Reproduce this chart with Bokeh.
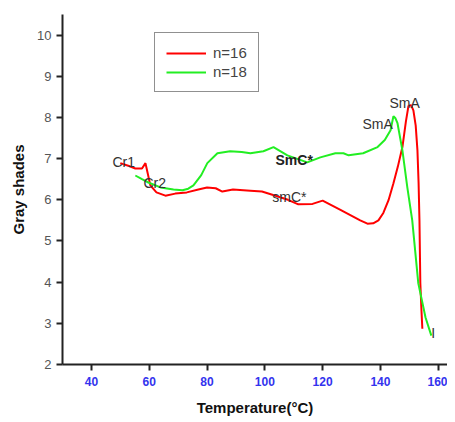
from bokeh.plotting import figure
from bokeh.models import Range1d, Legend, LegendItem
from bokeh.core.properties import value
from bokeh.embed import file_html
from bokeh.resources import INLINE

# n=16 (red)
t16 = [50.0, 53.0, 55.2, 57.5, 58.7, 59.3, 60.4, 62.5, 65.6, 69.0, 73.0, 77.0, 80.0, 83.0, 85.3,
       89.0, 95.0, 99.0, 103.7, 108.0, 111.6, 116.5, 120.0, 126.0, 133.0, 135.5, 137.5, 139.3,
       141.0, 142.8, 144.5, 146.0, 147.6, 148.8, 149.7, 150.6, 151.4, 152.2, 152.8, 153.2, 153.5,
       153.8, 154.2, 154.5]
g16 = [6.89, 6.82, 6.76, 6.76, 6.89, 6.7, 6.35, 6.18, 6.1, 6.15, 6.18, 6.25, 6.3, 6.28, 6.2,
       6.25, 6.22, 6.2, 6.1, 6.0, 5.89, 5.9, 5.98, 5.76, 5.5, 5.42, 5.43, 5.5,
       5.68, 5.99, 6.4, 6.8, 7.28, 7.9, 8.28, 8.3, 8.17, 7.8, 7.2, 6.4, 5.5,
       3.97, 3.3, 2.87]

# n=18 (green)
t18 = [55.2, 57.5, 59.7, 63.9, 68.4, 71.5, 73.5, 75.3, 78.0, 80.1, 83.6, 88.0, 92.0, 95.0, 99.5,
       103.0, 107.8, 114.7, 119.2, 124.4, 127.2, 129.0, 134.0, 139.0, 141.5, 143.5, 144.2, 144.5,
       145.2, 145.9, 147.6, 149.3, 151.0, 153.1, 155.6, 157.6]
g18 = [6.59, 6.5, 6.42, 6.3, 6.25, 6.23, 6.27, 6.35, 6.6, 6.89, 7.13, 7.18, 7.16, 7.13, 7.18,
       7.28, 7.08, 6.91, 7.03, 7.13, 7.13, 7.08, 7.13, 7.28, 7.45, 7.69, 7.93, 8.03,
       7.98, 7.86, 7.2, 6.3, 5.5, 3.97, 3.14, 2.7]

ann_text = ["Cr1", "Cr2", "smC*", "SmA", "SmA", "I"]
ann_x = [47.3, 58.0, 102.6, 133.8, 143.1, 157.6]
ann_y = [6.91, 6.40, 6.08, 7.83, 8.35, 2.77]
bold_text = ["SmC*"]
bold_x = [103.7]
bold_y = [6.96]

y_ticks = [2, 3, 4, 5, 6, 7, 8, 9, 10]
x_ticks = [40, 60, 80, 100, 120, 140, 160]

p = figure(frame_width=385, frame_height=350, output_backend="svg", toolbar_location=None,
           x_range=Range1d(30, 163.2), y_range=Range1d(2, 10.5),
           min_border_left=62, min_border_right=0, min_border_top=14, min_border_bottom=0,
           outline_line_color=None, background_fill_color="white")
p.grid.visible = False

r16 = p.line(t16, g16, line_color="#ff0000", line_width=2)
r18 = p.line(t18, g18, line_color="#22ee22", line_width=2)

p.text(ann_x, ann_y, text=ann_text, text_font=value("Liberation Sans"), text_font_size="14px",
       text_color="#333333", text_baseline="alphabetic", text_align="left")
p.text(bold_x, bold_y, text=bold_text, text_font=value("Liberation Sans"), text_font_size="14px",
       text_font_style="bold", text_color="#222222", text_baseline="alphabetic", text_align="left")

for ax in (p.xaxis[0], p.yaxis[0]):
    ax.axis_line_width = 2
    ax.axis_line_color = "#222222"
    ax.major_tick_line_width = 2
    ax.major_tick_line_color = "#222222"
    ax.minor_tick_line_width = 2
    ax.minor_tick_line_color = "#222222"
    ax.major_tick_out = 6
    ax.major_tick_in = 0
    ax.minor_tick_out = 4
    ax.minor_tick_in = 0
    ax.axis_label_text_font = "Liberation Sans"
    ax.axis_label_text_font_style = "bold"
    ax.axis_label_text_font_size = "15px"
    ax.axis_label_text_color = "#111111"
    ax.major_label_text_font = "Liberation Sans"

p.xaxis.ticker = x_ticks
p.xaxis[0].ticker.num_minor_ticks = 2
p.yaxis.ticker = y_ticks
p.yaxis[0].ticker.num_minor_ticks = 2
p.xaxis.major_label_text_color = "#3333ee"
p.xaxis.major_label_text_font_size = "12px"
p.xaxis.major_label_text_font_style = "bold"
p.xaxis.major_label_standoff = 6
p.yaxis.major_label_text_color = "#555555"
p.yaxis.major_label_text_font_size = "13px"
p.xaxis.axis_label = "Temperature(°C)"
p.yaxis.axis_label = "Gray shades"
p.xaxis.axis_label_standoff = 10
p.yaxis.axis_label_standoff = 7

legend = Legend(items=[LegendItem(label="n=16", renderers=[r16]),
                       LegendItem(label="n=18", renderers=[r18])],
                location=(92, 272), border_line_color="#222222", border_line_width=1,
                label_text_font="Liberation Sans", label_text_font_size="15px",
                label_height=16, glyph_height=16,
                glyph_width=40, label_standoff=7, padding=11, spacing=2,
                background_fill_alpha=1)
p.add_layout(legend, "center")

open("out.html", "w").write(file_html(p, INLINE))
